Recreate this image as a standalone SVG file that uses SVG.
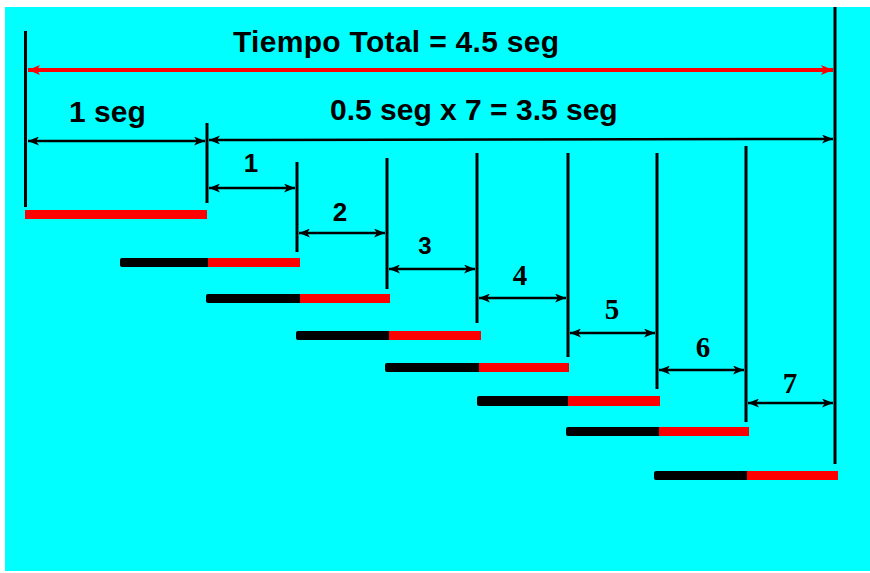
<svg xmlns="http://www.w3.org/2000/svg" width="870" height="573" viewBox="0 0 870 573">
  <style>
    .vl { stroke: #000; stroke-width: 3; fill: none; }
    .ar { stroke: #000; stroke-width: 2.5; fill: none; marker-start: url(#ah); marker-end: url(#ah); }
    .rar { stroke: #f00; stroke-width: 4; fill: none; marker-start: url(#rah); marker-end: url(#rah); }
    .lbl { font-family: "Liberation Sans", Arial, sans-serif; font-weight: bold; font-size: 30px; fill: #000; }
    .num { font-family: "Liberation Sans", Arial, sans-serif; font-weight: bold; font-size: 26px; fill: #000; text-anchor: middle; }
    .nums { font-family: "Liberation Serif", "Times New Roman", serif; font-weight: bold; font-size: 29px; fill: #000; text-anchor: middle; }
    .blk { fill: #000; }
    .red { fill: #f00; }
  </style>
  <defs>
    <marker id="ah" viewBox="0 0 11 9" refX="11" refY="4.5" markerWidth="11" markerHeight="9" markerUnits="userSpaceOnUse" orient="auto-start-reverse">
      <path d="M0,0 L11,4.5 L0,9 L3,4.5 z" fill="#000"/>
    </marker>
    <marker id="rah" viewBox="0 0 12 10" refX="12" refY="5" markerWidth="12" markerHeight="10" markerUnits="userSpaceOnUse" orient="auto-start-reverse">
      <path d="M0,0 L12,5 L0,10 L3,5 z" fill="#f00"/>
    </marker>
  </defs>
  <rect x="0" y="0" width="870" height="573" fill="#fff"/>
  <rect x="5" y="7" width="865" height="564" fill="#00ffff"/>

  <g id="verticals">
    <line class="vl" x1="25.5" y1="31" x2="25.5" y2="207"/>
    <line class="vl" x1="207" y1="123" x2="207" y2="203"/>
    <line class="vl" x1="297" y1="162" x2="297" y2="252"/>
    <line class="vl" x1="387" y1="158" x2="387" y2="289"/>
    <line class="vl" x1="477" y1="153" x2="477" y2="323"/>
    <line class="vl" x1="568" y1="153" x2="568" y2="357"/>
    <line class="vl" x1="657" y1="153" x2="657" y2="389"/>
    <line class="vl" x1="746" y1="146" x2="746" y2="422"/>
    <line class="vl" x1="835" y1="7" x2="835" y2="464"/>
  </g>

  <g id="connectors">
    <line class="rar" x1="28" y1="70" x2="833" y2="70"/>
    <line class="ar" x1="28" y1="141" x2="205" y2="141"/>
    <line class="ar" x1="209" y1="140" x2="833" y2="139"/>
    <line class="ar" x1="209" y1="188" x2="295" y2="188"/>
    <line class="ar" x1="299" y1="233" x2="385" y2="233"/>
    <line class="ar" x1="389" y1="269" x2="475" y2="269"/>
    <line class="ar" x1="479" y1="298" x2="566" y2="298"/>
    <line class="ar" x1="570" y1="333" x2="655" y2="333"/>
    <line class="ar" x1="659" y1="370" x2="744" y2="370"/>
    <line class="ar" x1="748" y1="403" x2="833" y2="403"/>
  </g>

  <g id="titles">
    <text class="lbl" x="233" y="52" letter-spacing="0.3">Tiempo Total = 4.5 seg</text>
    <text class="lbl" x="69" y="122">1 seg</text>
    <text class="lbl" x="330" y="120">0.5 seg x 7 = 3.5 seg</text>
  </g>

  <g id="interval-labels">
    <text class="num" x="251" y="172">1</text>
    <text class="num" x="340" y="221">2</text>
    <text x="425" y="254" style="font-family:'Liberation Sans',Arial,sans-serif;font-weight:bold;font-size:24px;text-anchor:middle;fill:#000">3</text>
    <text class="nums" x="520" y="285">4</text>
    <text class="nums" x="612" y="319">5</text>
    <text class="nums" x="703" y="357">6</text>
    <text class="nums" x="790" y="393">7</text>
  </g>

  <g id="bar0"><rect class="red" x="25" y="210" width="182" height="9"/></g>
  <g id="bar1"><rect class="blk" x="120" y="258" width="90" height="9" rx="2"/><rect class="red" x="208" y="258" width="92" height="9"/></g>
  <g id="bar2"><rect class="blk" x="206" y="294" width="96" height="9" rx="2"/><rect class="red" x="300" y="294" width="90" height="9"/></g>
  <g id="bar3"><rect class="blk" x="296" y="331" width="95" height="9" rx="2"/><rect class="red" x="389" y="331" width="92" height="9"/></g>
  <g id="bar4"><rect class="blk" x="385" y="363" width="96" height="9" rx="2"/><rect class="red" x="479" y="363" width="90" height="9"/></g>
  <g id="bar5"><rect class="blk" x="477" y="396" width="93" height="10" rx="2"/><rect class="red" x="568" y="396" width="92" height="10"/></g>
  <g id="bar6"><rect class="blk" x="566" y="427" width="95" height="9" rx="2"/><rect class="red" x="659" y="427" width="90" height="9"/></g>
  <g id="bar7"><rect class="blk" x="654" y="471" width="95" height="9" rx="2"/><rect class="red" x="747" y="471" width="91" height="9"/></g>
</svg>
